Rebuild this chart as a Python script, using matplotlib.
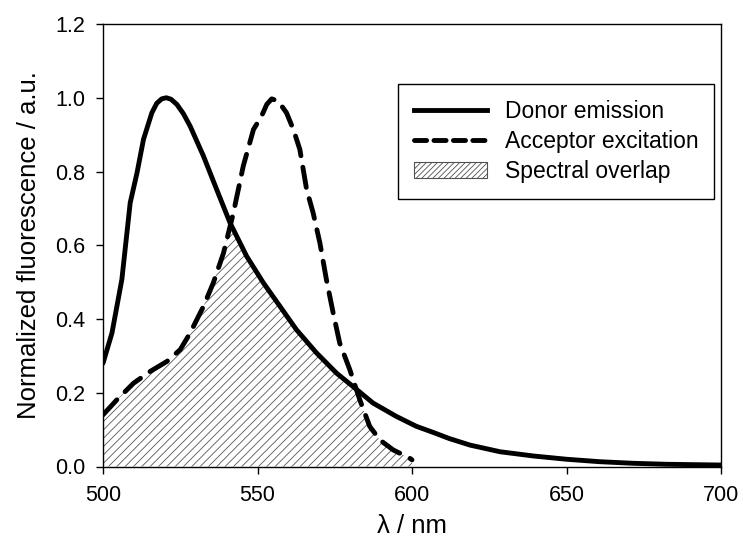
import matplotlib
matplotlib.use('Agg')
import matplotlib.pyplot as plt
from matplotlib.patches import Patch
from matplotlib.lines import Line2D
import numpy as np

plt.rcParams['font.family'] = ['Liberation Sans', 'DejaVu Sans']
plt.rcParams['hatch.linewidth'] = 0.6

# Donor emission (solid)
donor_wl = [500, 502.9, 506.1, 508.8, 511, 513.1, 515.8, 517.4, 519, 520.5,
            522, 523.9, 526, 528.2, 532.5, 536.8, 541.1, 546.5, 551.9, 557.3,
            562.6, 569.1, 575.6, 580.9, 587.4, 594.9, 601.4, 607, 612, 618.8,
            628.5, 639.3, 650.1, 660.8, 671.6, 682.4, 700]
donor_val = [0.28, 0.362, 0.507, 0.715, 0.796, 0.887, 0.959, 0.985, 0.997, 1.0,
             0.996, 0.982, 0.957, 0.923, 0.842, 0.751, 0.661, 0.570, 0.498,
             0.434, 0.371, 0.308, 0.253, 0.217, 0.172, 0.136, 0.109, 0.092,
             0.076, 0.058, 0.040, 0.0285, 0.0196, 0.013, 0.0087, 0.006, 0.004]

# Acceptor excitation (dashed)
acc_wl = [500, 504.5, 509.9, 515.3, 520.7, 525, 528.2, 532.5, 535.7, 539,
          542.2, 545.4, 548.7, 551.3, 553, 554.6, 556.7, 559.4, 561.6, 563.7,
          565.9, 568, 570.2, 572.3, 574.5, 576.6, 579.9, 583.1, 586.3, 589.6,
          593.9, 599.2, 600]
acc_val = [0.140, 0.181, 0.226, 0.258, 0.285, 0.317, 0.362, 0.434, 0.498, 0.579,
           0.688, 0.815, 0.914, 0.950, 0.982, 0.997, 0.991, 0.959, 0.914, 0.860,
           0.751, 0.688, 0.606, 0.507, 0.416, 0.335, 0.262, 0.181, 0.109, 0.072,
           0.045, 0.023, 0.018]

fig = plt.figure(figsize=(7.43, 5.53), dpi=100)
ax = fig.add_axes([103 / 743, 1 - 466.5 / 553, 618 / 743, 442.5 / 553])

# overlap = min of the two spectra on their common range
grid = np.union1d(donor_wl, acc_wl)
grid = grid[grid <= 600]
overlap = np.minimum(np.interp(grid, donor_wl, donor_val),
                     np.interp(grid, acc_wl, acc_val))
ax.fill_between(grid, 0, overlap, facecolor='white', edgecolor='#555555',
                hatch='////', linewidth=0, zorder=1)

ax.plot(donor_wl, donor_val, color='black', lw=3.5, solid_capstyle='round',
        solid_joinstyle='round', zorder=3)
ax.plot(acc_wl, acc_val, color='black', lw=3.5, dashes=(4.2, 2.4),
        dash_capstyle='round', solid_joinstyle='round', zorder=3)

ax.set_xlim(500, 700)
ax.set_ylim(0, 1.2)
ax.set_xticks([500, 550, 600, 650, 700])
ax.set_yticks(np.arange(0, 1.21, 0.2))
ax.yaxis.set_major_formatter(matplotlib.ticker.FormatStrFormatter('%.1f'))
ax.tick_params(direction='out', length=5, width=1, labelsize=15.5, pad=8)
for s in ax.spines.values():
    s.set_linewidth(1)

ax.set_xlabel('λ / nm', fontsize=18.5, labelpad=6)
ax.set_ylabel('Normalized fluorescence / a.u.', fontsize=18.5, labelpad=10)

handles = [Line2D([], [], color='black', lw=3.5),
           Line2D([], [], color='black', lw=3.5, dashes=(2.5, 1.5),
                  dash_capstyle='round'),
           Patch(facecolor='white', edgecolor='#505050', hatch='//////',
                 linewidth=0.8)]
labels = ['Donor emission', 'Acceptor excitation', 'Spectral overlap']
leg = ax.legend(handles, labels, loc='upper right',
                bbox_to_anchor=(0.989, 0.864), fontsize=16.5, frameon=True,
                fancybox=False, framealpha=1, edgecolor='black',
                borderpad=0.7, labelspacing=0.3, handlelength=3.2,
                handletextpad=0.75, borderaxespad=0)
leg.get_frame().set_linewidth(1)

fig.savefig('out.png', dpi=100)
